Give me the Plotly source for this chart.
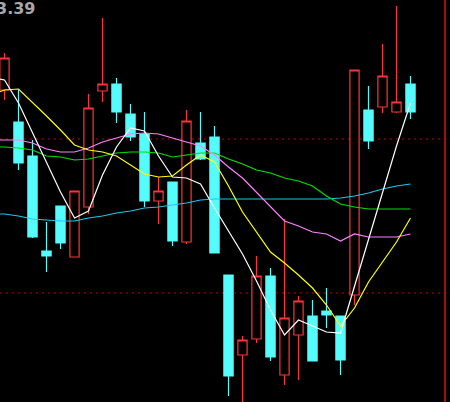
import plotly.graph_objects as go

# ---- data (prices) ----
idx = list(range(1, 31))
opens = [3.310, 3.278, 3.244, 3.149, 3.194, 3.143, 3.193, 3.309, 3.316, 3.286,
         3.266, 3.199, 3.218, 3.158, 3.257, 3.263, 3.125, 3.045, 3.061, 3.124,
         3.025, 3.065, 3.084, 3.089, 3.084, 3.105, 3.290, 3.293, 3.288, 3.316]
highs = [3.347, 3.310, 3.260, 3.178, 3.194, 3.209, 3.306, 3.382, 3.322, 3.296,
         3.288, 3.223, 3.218, 3.290, 3.288, 3.274, 3.125, 3.064, 3.144, 3.132,
         3.181, 3.104, 3.100, 3.112, 3.084, 3.330, 3.314, 3.356, 3.394, 3.324]
lows = [3.300, 3.230, 3.162, 3.128, 3.151, 3.143, 3.186, 3.298, 3.277, 3.259,
        3.193, 3.176, 3.154, 3.156, 3.240, 3.147, 3.004, 2.995, 3.057, 3.039,
        3.015, 3.020, 3.039, 3.072, 3.025, 3.095, 3.251, 3.287, 3.287, 3.281]
closes = [3.342, 3.237, 3.163, 3.144, 3.157, 3.209, 3.292, 3.316, 3.288, 3.263,
          3.199, 3.209, 3.159, 3.279, 3.241, 3.147, 3.024, 3.060, 3.124, 3.043,
          3.082, 3.099, 3.039, 3.085, 3.040, 3.330, 3.259, 3.324, 3.298, 3.288]

# moving averages (include the bar just left of the view)
ma_idx = list(range(0, 31))
ma5 = [3.323, 3.320, 3.297, 3.267, 3.237, 3.208, 3.182, 3.189, 3.225, 3.253, 3.272,
       3.269, 3.244, 3.223, 3.222, 3.216, 3.192, 3.169, 3.146, 3.119, 3.090,
       3.065, 3.080, 3.074, 3.068, 3.067, 3.114, 3.160, 3.207, 3.254, 3.297]
ma10 = [3.305, 3.310, 3.311, 3.298, 3.284, 3.270, 3.255, 3.250, 3.248, 3.244, 3.235,
        3.226, 3.223, 3.224, 3.235, 3.245, 3.238, 3.214, 3.188, 3.168, 3.148,
        3.137, 3.125, 3.112, 3.095, 3.074, 3.092, 3.118, 3.138, 3.158, 3.182]
ma20 = [3.260, 3.260, 3.260, 3.257, 3.251, 3.248, 3.248, 3.252, 3.258, 3.262, 3.266,
        3.267, 3.266, 3.262, 3.258, 3.254, 3.245, 3.233, 3.222, 3.208, 3.194,
        3.179, 3.174, 3.168, 3.166, 3.159, 3.166, 3.163, 3.163, 3.163, 3.166]
ma30 = [3.253, 3.253, 3.252, 3.250, 3.244, 3.243, 3.240, 3.241, 3.244, 3.247, 3.248,
        3.248, 3.247, 3.243, 3.245, 3.247, 3.247, 3.241, 3.236, 3.230, 3.227,
        3.222, 3.219, 3.214, 3.204, 3.196, 3.193, 3.191, 3.191, 3.191, 3.191]
ma60 = [3.186, 3.186, 3.184, 3.181, 3.180, 3.179, 3.179, 3.182, 3.184, 3.187, 3.189,
        3.192, 3.193, 3.195, 3.197, 3.200, 3.201, 3.201, 3.201, 3.201, 3.201,
        3.201, 3.201, 3.201, 3.201, 3.202, 3.204, 3.207, 3.211, 3.214, 3.216]

grid_levels = [3.261, 3.107]
top_label = "3.39"

RED = "#FF3434"
CYAN = "#54FCFC"

fig = go.Figure()
fig.add_trace(go.Candlestick(
    x=idx, open=opens, high=highs, low=lows, close=closes,
    increasing=dict(line=dict(color=RED, width=1.2), fillcolor="#000000"),
    decreasing=dict(line=dict(color=CYAN, width=1.2), fillcolor=CYAN),
    whiskerwidth=0, hoverinfo="skip",
))

for vals, col in [(ma60, "#1EC8E8"), (ma30, "#00E000"), (ma20, "#FF80FF"),
                  (ma10, "#FFFF00"), (ma5, "#FFFFFF")]:
    fig.add_trace(go.Scatter(x=ma_idx, y=vals, mode="lines",
                             line=dict(color=col, width=1.2), hoverinfo="skip"))

for lv in grid_levels:
    fig.add_shape(type="line", xref="paper", x0=0, x1=0.985, yref="y", y0=lv, y1=lv,
                  line=dict(color="#8C0000", width=1.6, dash="2px,4px"), layer="below")

fig.add_shape(type="line", xref="paper", x0=0.9889, x1=0.9889, yref="paper", y0=0, y1=1,
              line=dict(color="#A01010", width=2))

fig.add_annotation(text="<b>" + top_label + "</b>", xref="paper", yref="paper",
                   x=37 / 450, y=1, xanchor="right", yanchor="top", showarrow=False,
                   yshift=3,
                   font=dict(family="DejaVu Sans", size=16, color="#A8A8A8"))

fig.update_layout(
    width=450, height=402,
    margin=dict(l=0, r=0, t=0, b=0),
    paper_bgcolor="#000000", plot_bgcolor="#000000",
    showlegend=False, boxgap=0.34, boxgroupgap=0,
    xaxis=dict(range=[1 - 4.5 / 14, 1 - 4.5 / 14 + 450 / 14], visible=False,
               rangeslider=dict(visible=False), fixedrange=True),
    yaxis=dict(range=[2.998, 3.400], visible=False, fixedrange=True),
)

fig.write_html("out.html", config={"displayModeBar": False},
               post_script="document.body.style.margin='0';"
                           "document.body.style.background='#000';")
